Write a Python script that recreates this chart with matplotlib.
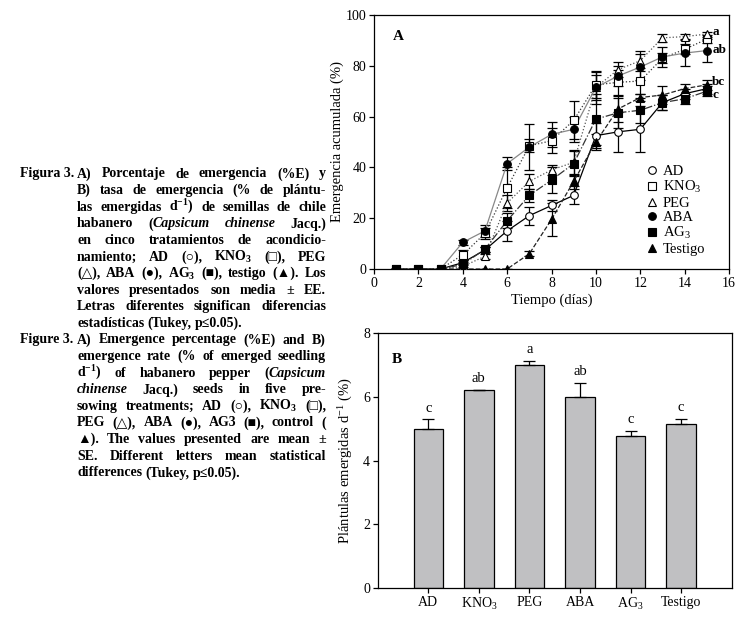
import numpy as np
import matplotlib
matplotlib.use("Agg")
import matplotlib.pyplot as plt

plt.rcParams['font.family'] = ['Liberation Serif', 'DejaVu Sans']
plt.rcParams['mathtext.fontset'] = 'custom'
plt.rcParams['mathtext.rm'] = 'Liberation Serif'
plt.rcParams['mathtext.it'] = 'Liberation Serif:italic'
plt.rcParams['mathtext.bf'] = 'Liberation Serif:bold'
plt.rcParams['mathtext.default'] = 'regular'

# --- datos panel A: emergencia acumulada (%) por dia ---
dias = np.arange(1, 16)
series = ['AD', 'KNO$_3$', 'PEG', 'ABA', 'AG$_3$', 'Testigo']
ad      = [0, 0, 0, 2.5, 7.5, 15, 21, 25, 29, 52.5, 54, 55, 65.5, 69, 71]
kno3    = [0, 0, 0, 5.6, 14, 32, 48.5, 50.5, 58.5, 72.5, 73.5, 74, 83, 86.5, 90.5]
peg     = [0, 0, 0, 1.0, 5, 26, 34.5, 39, 42, 71.5, 78.5, 82, 91, 91.5, 92.5]
aba     = [0, 0, 0, 10.5, 15, 41.5, 48, 53, 55, 71.5, 76, 79.5, 83.5, 85, 86]
ag3     = [0, 0, 0, 1.8, 7.8, 19, 29, 35, 41.5, 59, 61.5, 62.5, 65.5, 67, 70]
testigo = [0, 0, 0, 0, 0, 0, 6, 19.5, 34.5, 50, 63, 67.5, 68.5, 71, 72.5]
ee_ad      = [0, 0, 0, 1, 1, 4, 3.5, 2, 3.5, 5, 8, 9, 3, 2, 2]
ee_kno3    = [0, 0, 0, 2, 2, 8, 2.5, 5, 7.5, 5, 5, 5, 2, 2, 1.5]
ee_peg     = [0, 0, 0, 1, 1, 3, 3, 2, 5, 5, 3, 4, 1.5, 1, 1]
ee_aba     = [0, 0, 0, 1, 2.5, 2.5, 9, 5, 5, 6.5, 4, 5, 4, 5, 4.5]
ee_ag3     = [0, 0, 0, 1, 1, 3, 2.5, 5, 5, 10, 6, 5, 3, 2, 2]
ee_testigo = [0, 0, 0, 0, 0, 0, 1, 6.5, 3, 3, 5, 1.5, 3.5, 2, 2]
letras_a = ['a', 'ab', 'bc', 'c']
letras_a_y = [93.2, 86.3, 73.8, 68.6]

# --- datos panel B: tasa de emergencia ---
trat = ['AD', 'KNO$_3$', 'PEG', 'ABA', 'AG$_3$', 'Testigo']
tasa = [5.0, 6.2, 7.0, 6.0, 4.78, 5.15]
tasa_ee = [0.29, 0.02, 0.13, 0.44, 0.16, 0.16]
letras_b = ['c', 'ab', 'a', 'ab', 'c', 'c']

W, H = 754, 621
fig = plt.figure(figsize=(W / 100, H / 100), dpi=100)

# ---------------- panel A ----------------
ax1 = fig.add_axes([374 / W, 1 - 269 / H, 355 / W, 254 / H])
valores = [ad, kno3, peg, aba, ag3, testigo]
errores = [ee_ad, ee_kno3, ee_peg, ee_aba, ee_ag3, ee_testigo]
marcas = ['o', 's', '^', 'o', 's', '^']
rellenos = ['white', 'white', 'white', 'black', 'black', 'black']
estilos = ['-', ':', ':', '-', '-.', '--']
colores_linea = ['black', '#333333', '#555555', '#888888', '#333333', '#222222']
for v, e, m, f, ls, cl, lab in zip(valores, errores, marcas, rellenos, estilos, colores_linea, series):
    ax1.errorbar(dias, v, yerr=e, fmt='none', ecolor='black', elinewidth=0.9,
                 capsize=3.5, capthick=0.9, zorder=2)
    ax1.plot(dias, v, linestyle=ls, color=cl, lw=0.9, zorder=3)
    ax1.plot(dias, v, linestyle='none', marker=m, ms=5.5, mfc=f, mec='black',
             mew=0.8, zorder=4, label=lab)

for l, y in zip(letras_a, letras_a_y):
    ax1.text(15.25, y, l, fontsize=9.5, fontweight='bold', va='center', ha='left')
ax1.text(1.1, 91.5, 'A', fontsize=11, fontweight='bold', va='center', ha='center')

ax1.set_xlim(0, 16)
ax1.set_ylim(0, 100)
ax1.set_xticks(np.arange(0, 17, 2))
ax1.set_yticks(np.arange(0, 101, 20))
ax1.set_xlabel('Tiempo (días)', fontsize=10.5, labelpad=3)
ax1.set_ylabel('Emergencia acumulada (%)', fontsize=10.5, labelpad=1)
ax1.tick_params(direction='out', length=3.5, width=0.9, labelsize=10, pad=2)
for s in ax1.spines.values():
    s.set_linewidth(0.9)

ax1.legend(loc='upper left', bbox_to_anchor=(0.772, 0.41), frameon=False,
           fontsize=10.5, handlelength=0.6, handletextpad=0.4,
           labelspacing=0.08, borderpad=0, borderaxespad=0)

# ---------------- panel B ----------------
ax2 = fig.add_axes([377.7 / W, 1 - 588 / H, 354 / W, 255 / H])
xb = np.arange(1, len(trat) + 1)
ax2.bar(xb, tasa, width=0.58, color='#c0c0c2', edgecolor='black', linewidth=0.9, zorder=2)
ax2.errorbar(xb, tasa, yerr=[np.zeros(len(tasa)), tasa_ee], fmt='none', ecolor='black',
             elinewidth=0.9, capsize=4, capthick=0.9, zorder=3)
for x, v, e, l in zip(xb, tasa, tasa_ee, letras_b):
    ax2.text(x, v + e + 0.15, l, fontsize=10.5, ha='center', va='bottom')
ax2.text(0.38, 7.17, 'B', fontsize=11, fontweight='bold', va='center', ha='center')
ax2.set_xlim(0, 7)
ax2.set_ylim(0, 8)
ax2.set_xticks(xb)
ax2.set_xticklabels(trat)
ax2.set_yticks(np.arange(0, 9, 2))
ax2.set_ylabel('Plántulas emergidas d$^{-1}$ (%)', fontsize=10.5, labelpad=6)
ax2.tick_params(direction='out', length=3.5, width=0.9, labelsize=10, pad=2)
for s in ax2.spines.values():
    s.set_linewidth(0.9)

# ---------------- pie de figura (texto justificado) ----------------
lineas_es = [
    "A) Porcentaje de emergencia (%E) y",
    "B) tasa de emergencia (% de plántu-",
    "las emergidas d$^{-1}$) de semillas de chile",
    "habanero (~Capsicum chinense~ Jacq.)",
    "en cinco tratamientos de acondicio-",
    "namiento; AD (○), KNO$_3$ (□), PEG",
    "(△), ABA (●), AG$_3$ (■), testigo (▲). Los",
    "valores presentados son media ± EE.",
    "Letras diferentes significan diferencias",
    "estadísticas (Tukey, p≤0.05).",
]
lineas_en = [
    "A) Emergence percentage (%E) and B)",
    "emergence rate (% of emerged seedling",
    "d$^{-1}$) of habanero pepper (~Capsicum~",
    "~chinense~ Jacq.) seeds in five pre-",
    "sowing treatments; AD (○), KNO$_3$ (□),",
    "PEG (△), ABA (●), AG3 (■), control (",
    "▲). The values presented are mean ±",
    "SE. Different letters mean statistical",
    "differences (Tukey, p≤0.05).",
]

FS = 10
renderer = fig.canvas.get_renderer()
X0, X1 = 77, 326


def palabras(linea):
    # separa en palabras; cada palabra es una lista de (texto, italica)
    res, ital = [], False
    for w in linea.split(' '):
        segs = []
        for i, parte in enumerate(w.split('~')):
            if i > 0:
                ital = not ital
            if parte:
                segs.append((parte, ital))
        res.append(segs)
    return res


def dibujar_linea(linea, ypx, justificar):
    yf = 1 - ypx / H
    objs = []
    for segs in palabras(linea):
        grupo = []
        for txt, it in segs:
            t = fig.text(0, yf, txt, fontsize=FS, fontweight='bold',
                         fontstyle='italic' if it else 'normal', va='center', ha='left')
            grupo.append((t, t.get_window_extent(renderer).width))
        objs.append(grupo)
    anchos = [sum(a for _, a in g) for g in objs]
    espacio = FS * 100 / 72 * 0.25
    if justificar and len(objs) > 1:
        espacio = (X1 - X0 - sum(anchos)) / (len(objs) - 1)
    x = X0
    for g, a in zip(objs, anchos):
        xx = x
        for t, w in g:
            t.set_x(xx / W)
            xx += w
        x += a + espacio


y0, paso = 174, 16.6
fig.text(20 / W, 1 - y0 / H, 'Figura 3.', fontsize=FS, fontweight='bold', va='center')
for i, l in enumerate(lineas_es):
    dibujar_linea(l, y0 + i * paso, i < len(lineas_es) - 1)
y1 = y0 + len(lineas_es) * paso
fig.text(20 / W, 1 - y1 / H, 'Figure 3.', fontsize=FS, fontweight='bold', va='center')
for i, l in enumerate(lineas_en):
    dibujar_linea(l, y1 + i * paso, i < len(lineas_en) - 1)

fig.savefig('out.png', dpi=100)
